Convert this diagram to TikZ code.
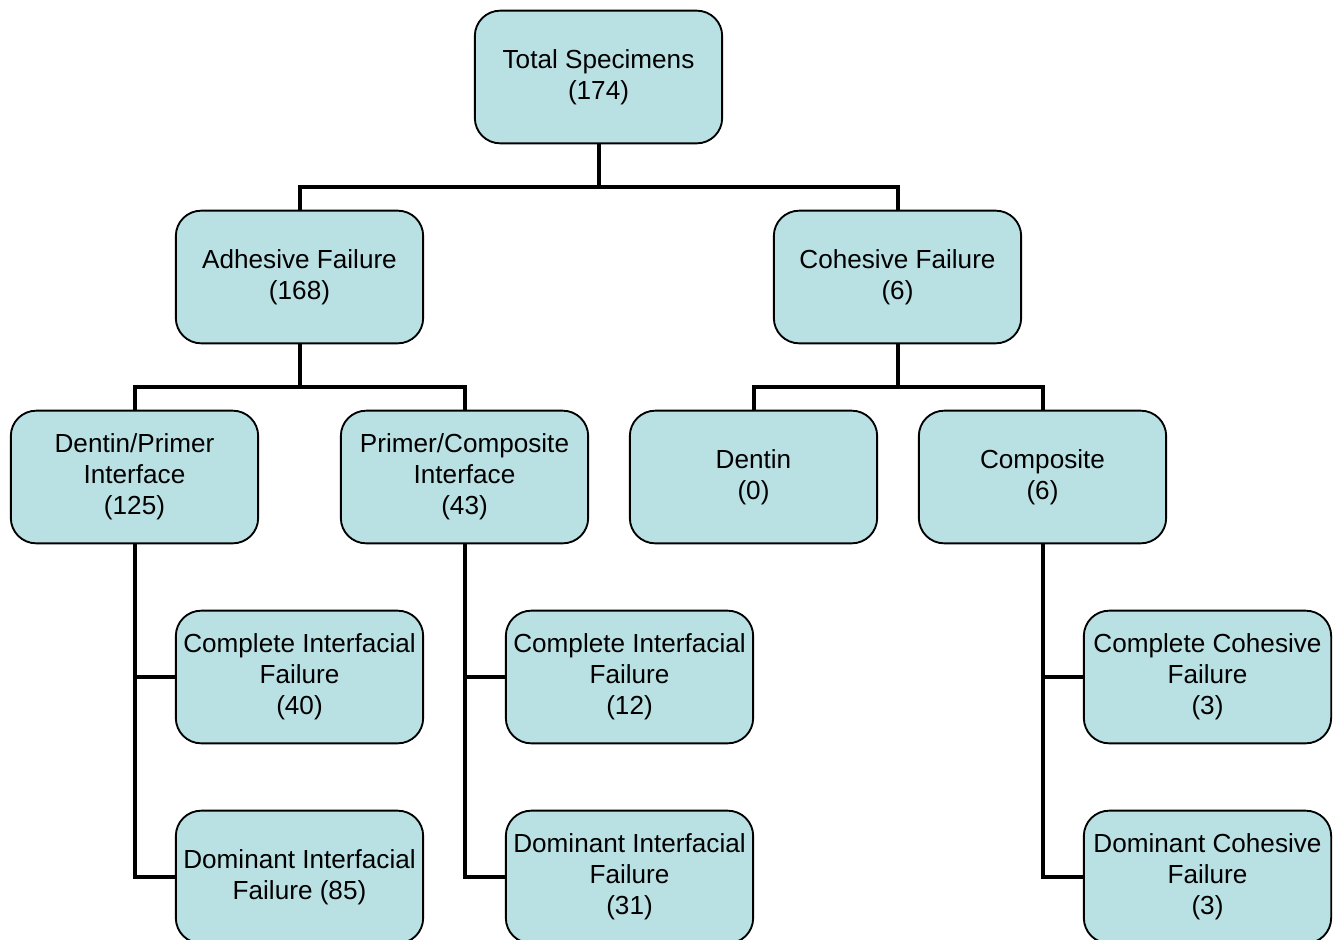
\documentclass[tikz,border=0pt]{standalone}
\usepackage{fontspec}
\setmainfont{Liberation Sans}
\usepackage{xcolor}
\definecolor{boxfill}{RGB}{185,224,227}

\begin{document}
\begin{tikzpicture}[x=0.75pt,y=-0.75pt,
    box/.style={draw=black,line width=1.4pt,fill=boxfill,rounded corners=19pt,
      minimum width=185.5pt,minimum height=99.5pt,align=center,
      font=\fontsize{19.6}{23.3}\selectfont},
    link/.style={line width=3pt}]
                \useasboundingbox (0,0) rectangle (1342,939);

                \node[box] (tot) at (598.5,77) {Total Specimens\\(174)};

                \node[box] (adh) at (299.5,277) {Adhesive Failure\\(168)};
                \node[box] (coh) at (897.5,277) {Cohesive Failure\\(6)};

                \node[box] (dp) at (134.5,477) {Dentin/Primer\\Interface\\(125)};
                \node[box] (pc) at (464.5,477) {Primer/Composite\\Interface\\(43)};
                \node[box] (den) at (753.5,477) {Dentin\\(0)};
                \node[box] (com) at (1042.5,477) {Composite\\(6)};

                \node[box] (ci1) at (299.5,677) {Complete Interfacial\\Failure\\(40)};
                \node[box] (di1) at (299.5,877) {Dominant Interfacial\\Failure (85)};
                \node[box] (ci2) at (629.5,677) {Complete Interfacial\\Failure\\(12)};
                \node[box] (di2) at (629.5,877) {Dominant Interfacial\\Failure\\(31)};
                \node[box] (cc) at (1207.5,677) {Complete Cohesive\\Failure\\(3)};
                \node[box] (dc) at (1207.5,877) {Dominant Cohesive\\Failure\\(3)};

                \draw[link] (tot.south) -- (tot.south |- 0,187) -| (adh.north);
                \draw[link] (tot.south |- 0,187) -| (coh.north);

                \draw[link] (adh.south) -- (adh.south |- 0,387) -| (dp.north);
                \draw[link] (adh.south |- 0,387) -| (pc.north);
                \draw[link] (coh.south) -- (coh.south |- 0,387) -| (den.north);
                \draw[link] (coh.south |- 0,387) -| (com.north);

                \draw[link] (dp.south) |- (ci1.west);
                \draw[link] (dp.south) |- (di1.west);
                \draw[link] (pc.south) |- (ci2.west);
                \draw[link] (pc.south) |- (di2.west);
                \draw[link] (com.south) |- (cc.west);
                \draw[link] (com.south) |- (dc.west);
            \end{tikzpicture}
\end{document}
